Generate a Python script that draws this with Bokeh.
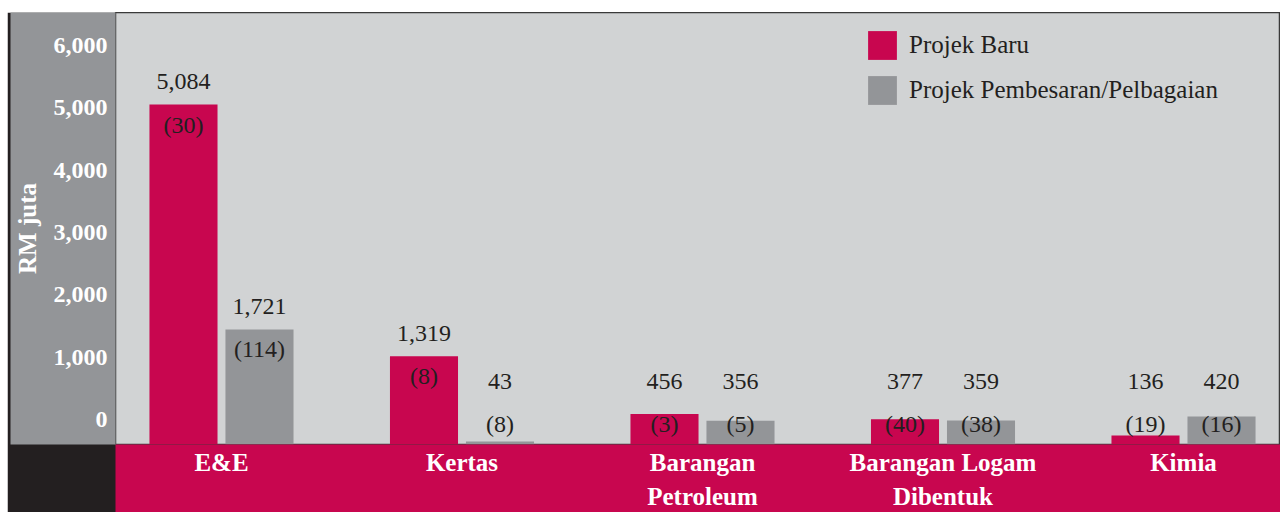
from bokeh.plotting import figure
from bokeh.models import (ColumnDataSource, Range1d, LinearAxis, FixedTicker,
                          NumeralTickFormatter, Legend, LegendItem, Spacer)
from bokeh.layouts import column, row
from bokeh.transform import dodge
from bokeh.core.properties import value
from bokeh.embed import file_html
from bokeh.resources import INLINE

# ---- data ----
categories = ["E&E", "Kertas", "Barangan\nPetroleum", "Barangan Logam\nDibentuk", "Kimia"]
baru_value = [5084, 1319, 456, 377, 136]
baru_count = [30, 8, 3, 40, 19]
besar_value = [1721, 43, 356, 359, 420]
besar_count = [114, 8, 5, 38, 16]
y_ticks = [0, 1000, 2000, 3000, 4000, 5000, 6000]
series_names = ["Projek Baru", "Projek Pembesaran/Pelbagaian"]

# ---- style ----
CRIMSON = "#c8064f"
GREY = "#939598"
PANEL = "#d1d3d4"
DARK = "#231f20"
FONT = "Liberation Serif"
LABEL_FLOOR = 600

xs = list(range(len(categories)))


def make_source(vals, counts):
    return ColumnDataSource(dict(
        x=xs,
        v=vals,
        vlab=[f"{v:,}" for v in vals],
        clab=[f"({c})" for c in counts],
        ly=[max(v, LABEL_FLOOR) for v in vals],
    ))


src_baru = make_source(baru_value, baru_count)
src_besar = make_source(besar_value, besar_count)

p = figure(width=1273, height=500, output_backend="svg", toolbar_location=None,
           x_range=Range1d(-0.4407, 4.4033), y_range=Range1d(0, 6460),
           x_axis_location=None, y_axis_location=None,
           min_border_left=108, min_border_right=0, min_border_top=0,
           min_border_bottom=67)
p.background_fill_color = PANEL
p.border_fill_color = DARK
p.outline_line_color = "#3a3a3a"
p.outline_line_width = 1.5
p.grid.visible = False

# axis scale for tick labels
p.extra_y_ranges = {"ax": Range1d(-400, 6528)}
yaxis = LinearAxis(y_range_name="ax", ticker=FixedTicker(ticks=y_ticks),
                   formatter=NumeralTickFormatter(format="0,0"))
yaxis.axis_label = "RM juta"
yaxis.axis_label_text_font = FONT
yaxis.axis_label_text_font_style = "bold"
yaxis.axis_label_text_font_size = "25px"
yaxis.axis_label_text_color = "white"
yaxis.axis_label_standoff = 10
yaxis.major_label_text_font = FONT
yaxis.major_label_text_font_style = "bold"
yaxis.major_label_text_font_size = "24px"
yaxis.major_label_text_color = "white"
yaxis.major_label_standoff = 8
yaxis.axis_line_color = None
yaxis.major_tick_line_color = None
yaxis.minor_tick_line_color = None
yaxis.major_tick_out = 0
yaxis.minor_tick_out = 0
yaxis.background_fill_color = GREY
p.add_layout(yaxis, "left")

xaxis = LinearAxis(ticker=FixedTicker(ticks=xs),
                   major_label_overrides={i: c for i, c in zip(xs, categories)})
xaxis.major_label_text_font = FONT
xaxis.major_label_text_font_style = "bold"
xaxis.major_label_text_font_size = "25px"
xaxis.major_label_text_color = "white"
xaxis.major_label_text_line_height = 1.26
xaxis.major_label_standoff = 4
xaxis.axis_line_color = None
xaxis.major_tick_line_color = None
xaxis.minor_tick_line_color = None
xaxis.major_tick_in = 0
xaxis.major_tick_out = 0
xaxis.minor_tick_in = 0
xaxis.minor_tick_out = 0
xaxis.background_fill_color = CRIMSON
p.add_layout(xaxis, "below")

off = 0.158
bw = 0.283
r1 = p.vbar(x=dodge("x", -off, range=p.x_range), top="v", width=bw, source=src_baru,
            fill_color=CRIMSON, line_color=None)
r2 = p.vbar(x=dodge("x", off, range=p.x_range), top="v", width=bw, source=src_besar,
            fill_color=GREY, line_color=None)

for src, o in ((src_baru, -off), (src_besar, off)):
    p.text(x=dodge("x", o, range=p.x_range), y="ly", text="vlab", source=src,
           text_font=value(FONT), text_font_size="24px", text_color=DARK,
           text_align="center", text_baseline="middle", y_offset=-23)
    p.text(x=dodge("x", o, range=p.x_range), y="ly", text="clab", source=src,
           text_font=value(FONT), text_font_size="24px", text_color=DARK,
           text_align="center", text_baseline="middle", y_offset=20)

legend = Legend(items=[LegendItem(label=series_names[0], renderers=[r1]),
                       LegendItem(label=series_names[1], renderers=[r2])],
                location=(749, 336), orientation="vertical",
                glyph_width=36, glyph_height=36, label_standoff=9, spacing=9,
                padding=0, margin=0, background_fill_alpha=0, border_line_alpha=0,
                label_text_font=FONT, label_text_font_size="25px",
                label_text_color=DARK, label_height=36)
p.add_layout(legend)

layout = row(Spacer(width=7, height=512),
             column(Spacer(height=12, width=1273), p))
open("out.html", "w").write(file_html(layout, INLINE))
